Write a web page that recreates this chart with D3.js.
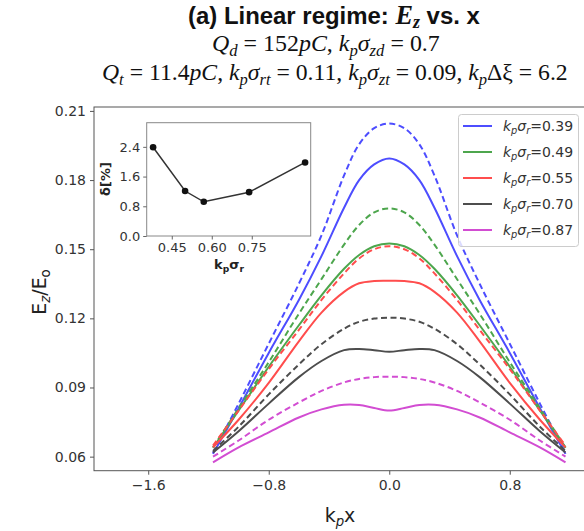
<!DOCTYPE html>
<html><head><meta charset="utf-8">
<script src="https://cdn.jsdelivr.net/npm/d3@7"></script>
<style>body{margin:0;background:#fff}</style>
</head><body><svg id="c" width="584" height="531"></svg>
<script>
// ---------- data ----------
const xGrid = [-1.17,-1.0,-0.8,-0.6,-0.45,-0.3,-0.2,-0.1,0,0.1,0.2,0.3,0.45,0.6,0.8,1.0,1.17];
const kLabels = ["0.39","0.49","0.55","0.70","0.87"];
const colors = ["#4d4dff","#4da64d","#ff4d4d","#4d4d4d","#d24dd2"];
const solid039 = [0.0612,0.081,0.105,0.128,0.147,0.168,0.180,0.1868,0.1894,0.1868,0.180,0.168,0.147,0.128,0.105,0.081,0.0612];
const dashed039 = [0.0616,0.083,0.109,0.135,0.156,0.182,0.1955,0.2025,0.2045,0.2025,0.1955,0.182,0.156,0.135,0.109,0.083,0.0616];
const solid049 = [0.0638,0.080,0.099,0.117,0.130,0.1415,0.1475,0.1513,0.1525,0.1513,0.1475,0.1415,0.130,0.117,0.099,0.080,0.0638];
const dashed049 = [0.0640,0.081,0.101,0.122,0.137,0.152,0.1605,0.1660,0.1677,0.1660,0.1605,0.152,0.137,0.122,0.101,0.081,0.0640];
const solid055 = [0.0640,0.076,0.092,0.110,0.1225,0.1315,0.1352,0.1362,0.1363,0.1362,0.1352,0.1315,0.1225,0.110,0.092,0.076,0.0640];
const dashed055 = [0.0648,0.080,0.098,0.115,0.128,0.1395,0.1460,0.1500,0.1513,0.1500,0.1460,0.1395,0.128,0.115,0.098,0.080,0.0648];
const solid070 = [0.0618,0.071,0.083,0.0945,0.1015,0.1062,0.1067,0.1062,0.1055,0.1062,0.1067,0.1062,0.1015,0.0945,0.083,0.071,0.0618];
const dashed070 = [0.0625,0.073,0.087,0.100,0.1088,0.1155,0.1185,0.1199,0.1203,0.1199,0.1185,0.1155,0.1088,0.100,0.087,0.073,0.0625];
const solid087 = [0.0575,0.064,0.0705,0.0770,0.0805,0.0825,0.0824,0.0811,0.0800,0.0811,0.0824,0.0825,0.0805,0.0770,0.0705,0.064,0.0575];
const dashed087 = [0.0600,0.067,0.076,0.0835,0.0885,0.0922,0.0937,0.0945,0.0947,0.0945,0.0937,0.0922,0.0885,0.0835,0.076,0.067,0.0600];
const xTicks = [-1.6,-0.8,0.0,0.8];
const xTickLabels = ["\u22121.6","\u22120.8","0.0","0.8"];
const yTicks = [0.06,0.09,0.12,0.15,0.18,0.21];
const yTickLabels = ["0.06","0.09","0.12","0.15","0.18","0.21"];
// inset
const insetX = [0.38,0.50,0.57,0.74,0.95];
const insetY = [2.39,1.21,0.92,1.18,1.98];
const insetXTicks = [0.45,0.60,0.75];
const insetXTickLabels = ["0.45","0.60","0.75"];
const insetYTicks = [0.0,0.8,1.6,2.4];
const insetYTickLabels = ["0.0","0.8","1.6","2.4"];

const solids = [solid039,solid049,solid055,solid070,solid087];
const dashes = [dashed039,dashed049,dashed055,dashed070,dashed087];

// ---------- helpers ----------
const svg = d3.select("#c");
function mathText(g, segs, fs, family, weight){
  const t = g.append("text").attr("font-family", family).attr("font-size", fs).attr("font-weight", weight||"normal");
  let shifted = false;
  segs.forEach(s => {
    const sp = t.append("tspan").text(s.t);
    if (s.i) sp.attr("font-style","italic");
    if (s.sub) {
      sp.attr("font-size", fs*0.7);
      if (!shifted) { sp.attr("dy", fs*0.2); shifted = true; }
    } else if (shifted) { sp.attr("dy", -fs*0.2); shifted = false; }
  });
  return t;
}
// place text so that it spans [x0, x0+w] horizontally only
function fitSpan(g, x0, w){
  const t = g.select("text");
  const bb = t.node().getBBox();
  const s = w / bb.width;
  const fs = +t.attr("font-size") * s;
  t.attr("font-size", fs);
  t.selectAll("tspan").each(function(){
    const sp = d3.select(this);
    if (sp.attr("font-size")) sp.attr("font-size", +sp.attr("font-size")*s);
    if (sp.attr("dy")) sp.attr("dy", +sp.attr("dy")*s);
  });
  const bb2 = t.node().getBBox();
  g.attr("transform", `translate(${x0 - bb2.x},${+g.attr("data-y")})`);
}

// ---------- main axes ----------
const L = 94, R = 586, T = 107, B = 470.7;
const x = d3.scaleLinear().domain([-1.96, 1.306]).range([L, R]);
const y = d3.scaleLinear().domain([0.0539, 0.2117]).range([B, T]);

const defs = svg.append("defs");
defs.append("clipPath").attr("id","pc").append("rect").attr("x",L).attr("y",T).attr("width",R-L).attr("height",B-T);

const plot = svg.append("g").attr("clip-path","url(#pc)");
const line = d3.line().x((d,i)=>x(xGrid[i])).y(d=>y(d)).curve(d3.curveCatmullRom.alpha(0.5));
for (let k=0;k<5;k++){
  plot.append("path").attr("d", line(dashes[k])).attr("fill","none").attr("stroke",colors[k]).attr("stroke-width",2).attr("stroke-dasharray","6,3.5");
  plot.append("path").attr("d", line(solids[k])).attr("fill","none").attr("stroke",colors[k]).attr("stroke-width",2);
}

// frame
svg.append("rect").attr("x",L).attr("y",T).attr("width",R-L).attr("height",B-T).attr("fill","none").attr("stroke","#555").attr("stroke-width",1);

const xa = svg.append("g").attr("transform",`translate(0,${B})`)
  .call(d3.axisBottom(x).tickValues(xTicks).tickFormat((d,i)=>xTickLabels[i]).tickSize(4).tickPadding(5));
const ya = svg.append("g").attr("transform",`translate(${L},0)`)
  .call(d3.axisLeft(y).tickValues(yTicks).tickFormat((d,i)=>yTickLabels[i]).tickSize(4).tickPadding(4));
[xa,ya].forEach(a=>{
  a.select(".domain").remove();
  a.selectAll(".tick line").attr("stroke","#555");
  a.selectAll(".tick text").attr("font-family","DejaVu Sans").attr("font-size",14).attr("fill","#333");
});

// axis labels
const yl = svg.append("g").attr("transform","translate(46,292) rotate(-90)");
mathText(yl, [{t:"E"},{t:"z",sub:true,i:true},{t:"/E"},{t:"o",sub:true}], 19, "DejaVu Sans").attr("text-anchor","middle").attr("fill","#222");
const xl = svg.append("g").attr("transform","translate(340,522)");
mathText(xl, [{t:"k"},{t:"p",sub:true,i:true},{t:"x"}], 19, "DejaVu Sans").attr("text-anchor","middle").attr("fill","#222");

// ---------- legend ----------
const lg = svg.append("g");
lg.append("rect").attr("x",458.5).attr("y",114.5).attr("width",120).attr("height",132).attr("rx",3)
  .attr("fill","#fff").attr("fill-opacity",0.8).attr("stroke","#ccc");
kLabels.forEach((lab,i)=>{
  const yy = 126 + i*26;
  lg.append("line").attr("x1",463).attr("x2",492).attr("y1",yy).attr("y2",yy).attr("stroke",colors[i]).attr("stroke-width",2);
  const g = lg.append("g").attr("transform",`translate(503,${yy+5})`);
  mathText(g, [{t:"k",i:true},{t:"p",sub:true,i:true},{t:"σ",i:true},{t:"r",sub:true,i:true},{t:"=" + lab}], 14, "DejaVu Sans").attr("fill","#333");
});

// ---------- inset ----------
const iL = 146.7, iR = 310.7, iT = 122.7, iB = 236;
const ix = d3.scaleLinear().domain([0.356, 0.971]).range([iL, iR]);
const iy = d3.scaleLinear().domain([0, 3.05]).range([iB, iT]);
svg.append("rect").attr("x",iL).attr("y",iT).attr("width",iR-iL).attr("height",iB-iT).attr("fill","#fff").attr("stroke","#888");
svg.append("path").attr("d", d3.line().x(d=>ix(d)).y((d,i)=>iy(insetY[i]))(insetX))
  .attr("fill","none").attr("stroke","#333").attr("stroke-width",1.5);
svg.append("g").selectAll("circle").data(insetX).join("circle")
  .attr("cx",d=>ix(d)).attr("cy",(d,i)=>iy(insetY[i])).attr("r",3.3).attr("fill","#111");
const ixa = svg.append("g").attr("transform",`translate(0,${iB})`)
  .call(d3.axisBottom(ix).tickValues(insetXTicks).tickFormat((d,i)=>insetXTickLabels[i]).tickSize(3.5).tickPadding(3));
const iya = svg.append("g").attr("transform",`translate(${iL},0)`)
  .call(d3.axisLeft(iy).tickValues(insetYTicks).tickFormat((d,i)=>insetYTickLabels[i]).tickSize(3.5).tickPadding(3));
[ixa,iya].forEach(a=>{
  a.select(".domain").remove();
  a.selectAll(".tick line").attr("stroke","#666");
  a.selectAll(".tick text").attr("font-family","DejaVu Sans").attr("font-size",13).attr("fill","#333");
});
const ixl = svg.append("g").attr("transform","translate(229,269)");
mathText(ixl, [{t:"k"},{t:"p",sub:true},{t:"σ"},{t:"r",sub:true}], 13, "DejaVu Sans", "bold").attr("text-anchor","middle").attr("fill","#222");
svg.append("text").attr("transform","translate(110,179) rotate(-90)").attr("text-anchor","middle")
  .attr("font-family","DejaVu Sans").attr("font-weight","bold").attr("font-size",13).attr("fill","#222").text("δ[%]");

// ---------- titles ----------
const g1 = svg.append("g").attr("data-y",24);
const t1 = g1.append("text").attr("fill","#111")
  .attr("font-family","Liberation Sans").attr("font-size",20).attr("font-weight","bold");
t1.append("tspan").text("(a) Linear regime: ");
t1.append("tspan").attr("font-family","Liberation Serif").attr("font-style","italic").attr("font-size",22).text("E");
t1.append("tspan").attr("font-family","Liberation Serif").attr("font-style","italic").attr("font-size",15).attr("dy",3).text("z");
t1.append("tspan").attr("dy",-3).text(" vs. x");
fitSpan(g1, 188, 292);

const g2 = svg.append("g").attr("data-y",51);
mathText(g2, [{t:"Q",i:true},{t:"d",sub:true,i:true},{t:" = 152"},{t:"pC",i:true},{t:", "},{t:"k",i:true},{t:"p",sub:true,i:true},{t:"σ",i:true},{t:"zd",sub:true,i:true},{t:" = 0.7"}], 20, "Liberation Serif").attr("fill","#111");
fitSpan(g2, 212, 228);
const g3 = svg.append("g").attr("data-y",80);
mathText(g3, [{t:"Q",i:true},{t:"t",sub:true,i:true},{t:" = 11.4"},{t:"pC",i:true},{t:", "},{t:"k",i:true},{t:"p",sub:true,i:true},{t:"σ",i:true},{t:"rt",sub:true,i:true},{t:" = 0.11, "},{t:"k",i:true},{t:"p",sub:true,i:true},{t:"σ",i:true},{t:"zt",sub:true,i:true},{t:" = 0.09, "},{t:"k",i:true},{t:"p",sub:true,i:true},{t:"Δξ"},{t:" = 6.2"}], 20, "Liberation Serif").attr("fill","#111");
fitSpan(g3, 102, 466);
</script></body></html>
